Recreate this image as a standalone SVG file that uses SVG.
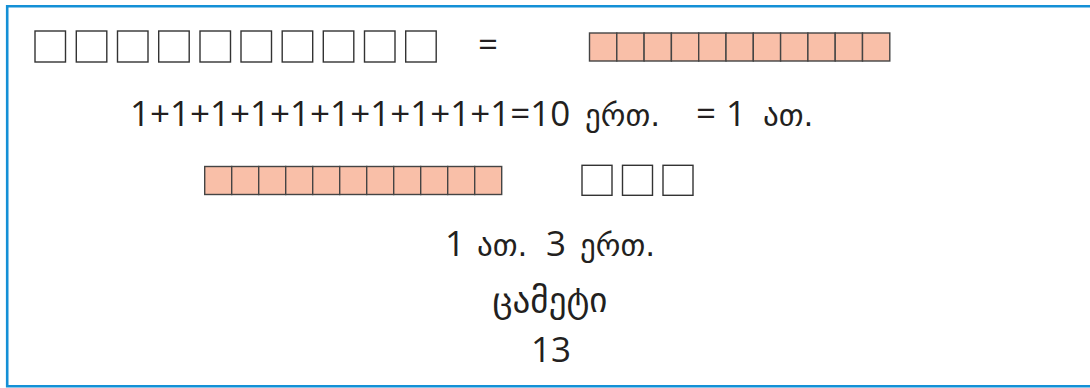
<svg xmlns="http://www.w3.org/2000/svg" width="1090" height="388" viewBox="0 0 1090 388">
<style>
.w{fill:#fff;stroke:#333;stroke-width:1.4}
.o{fill:#f9bfa8;stroke:#444;stroke-width:1.4}
.t{font-family:"Open Sans","DejaVu Sans",sans-serif;font-size:35px;fill:#231f20}
.g{font-family:"DejaVu Sans",sans-serif;font-size:31px;fill:#231f20}
</style>
<rect width="1090" height="388" fill="#fff"/>
<path d="M1090 6.2H7.2V386.2H1090" fill="none" stroke="#1490d6" stroke-width="2.6"/>
<g id="top-units">
<rect class="w" x="35" y="31" width="30.5" height="31"/>
<rect class="w" x="76.3" y="31" width="30.5" height="31"/>
<rect class="w" x="117.5" y="31" width="30.5" height="31"/>
<rect class="w" x="158.7" y="31" width="30.5" height="31"/>
<rect class="w" x="200" y="31" width="30.5" height="31"/>
<rect class="w" x="241" y="31" width="30.5" height="31"/>
<rect class="w" x="282.2" y="31" width="30.5" height="31"/>
<rect class="w" x="323.3" y="31" width="30.5" height="31"/>
<rect class="w" x="364.5" y="31" width="30.5" height="31"/>
<rect class="w" x="405.7" y="31" width="30.5" height="31"/>
</g>
<g id="top-equals"><text class="t" x="488" y="57" text-anchor="middle">=</text></g>
<g id="top-ten">
<rect class="o" x="589.5" y="33" width="27.3" height="28"/>
<rect class="o" x="616.8" y="33" width="27.3" height="28"/>
<rect class="o" x="644.1" y="33" width="27.3" height="28"/>
<rect class="o" x="671.4" y="33" width="27.3" height="28"/>
<rect class="o" x="698.7" y="33" width="27.3" height="28"/>
<rect class="o" x="726" y="33" width="27.3" height="28"/>
<rect class="o" x="753.3" y="33" width="27.3" height="28"/>
<rect class="o" x="780.6" y="33" width="27.3" height="28"/>
<rect class="o" x="807.9" y="33" width="27.3" height="28"/>
<rect class="o" x="835.2" y="33" width="27.3" height="28"/>
<rect class="o" x="862.5" y="33" width="27.3" height="28"/>
</g>
<g id="sum-line">
<text class="t" x="130" y="126">1+1+1+1+1+1+1+1+1+1=10</text>
<text class="g" x="585" y="126">ერთ.</text>
<text class="t" x="696" y="126">=</text>
<text class="t" x="726" y="126">1</text>
<text class="g" x="763" y="126">ათ.</text>
</g>
<g id="ten-bar">
<rect class="o" x="204.7" y="166.5" width="27" height="28"/>
<rect class="o" x="231.7" y="166.5" width="27" height="28"/>
<rect class="o" x="258.7" y="166.5" width="27" height="28"/>
<rect class="o" x="285.7" y="166.5" width="27" height="28"/>
<rect class="o" x="312.7" y="166.5" width="27" height="28"/>
<rect class="o" x="339.7" y="166.5" width="27" height="28"/>
<rect class="o" x="366.7" y="166.5" width="27" height="28"/>
<rect class="o" x="393.7" y="166.5" width="27" height="28"/>
<rect class="o" x="420.7" y="166.5" width="27" height="28"/>
<rect class="o" x="447.7" y="166.5" width="27" height="28"/>
<rect class="o" x="474.7" y="166.5" width="27" height="28"/>
</g>
<g id="three-units">
<rect class="w" x="582" y="165.3" width="30" height="30"/>
<rect class="w" x="622.5" y="165.3" width="30" height="30"/>
<rect class="w" x="663" y="165.3" width="30" height="30"/>
</g>
<g id="result-line">
<text class="t" x="445" y="256">1</text>
<text class="g" x="477" y="256">ათ.</text>
<text class="t" x="546" y="256">3</text>
<text class="g" x="580" y="256">ერთ.</text>
</g>
<g id="word"><text class="g" x="550" y="312" text-anchor="middle" style="font-size:35px">ცამეტი</text></g>
<g id="number"><text class="t" x="551" y="362" text-anchor="middle">13</text></g>
</svg>
